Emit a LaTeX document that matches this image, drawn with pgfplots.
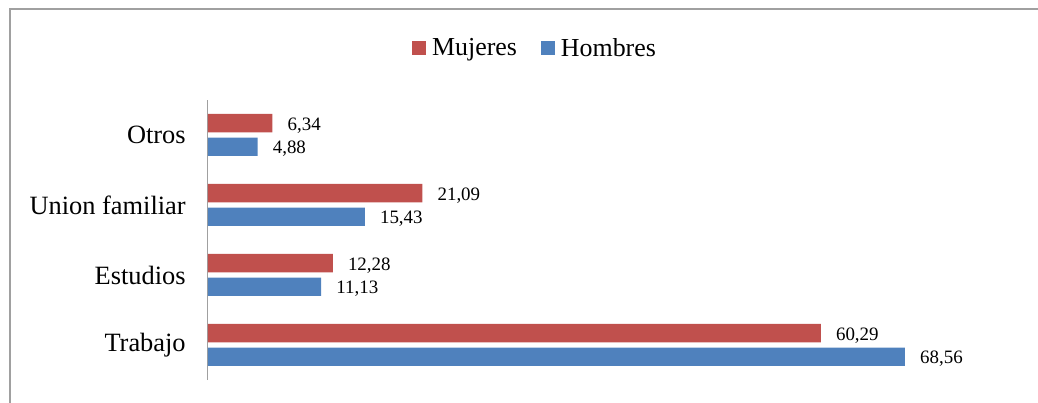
\documentclass[border=0pt]{standalone}
\usepackage{fontspec}
\setmainfont{Liberation Serif}
\usepackage{pgfplots}
\pgfplotsset{compat=1.18}
\definecolor{mred}{HTML}{C0504D}
\definecolor{mblue}{HTML}{4F81BD}
\definecolor{framegray}{HTML}{A0A0A0}
\begin{document}
\begin{tikzpicture}
\path[use as bounding box] (-208bp,-23bp) rectangle (830bp,380bp);
\draw[framegray, line width=1.3bp] (-198bp,-23bp) -- (-198bp,371bp) -- (830bp,371bp);
\begin{axis}[
  scale only axis, width=830bp, height=280bp,
  xbar, xmin=0, xmax=81.65, ymin=-0.5, ymax=3.5,
  axis x line=none, axis y line=left,
  y axis line style={-, draw=framegray, line width=1bp},
  ytick={0,1,2,3}, yticklabels={Trabajo, Estudios, Union familiar, Otros},
  ytick style={draw=none},
  yticklabel style={font=\fontsize{26.5}{30}\selectfont, inner sep=0pt, anchor=east, xshift=-20bp},
  bar width=0.264,
  clip=false,
  nodes near coords, point meta=explicit symbolic,
  every node near coord/.append style={font=\fontsize{19}{21}\selectfont, anchor=west, inner sep=0pt, xshift=15bp, yshift=-2bp, text=black},
  legend style={at={(0.394,1.186)}, anchor=center, draw=none, font=\fontsize{26}{30}\selectfont, legend columns=2,
    /tikz/every odd column/.append style={column sep=4bp},
    /tikz/every even column/.append style={column sep=22bp}},
  legend image code/.code={\fill[#1] (0bp,-7bp) rectangle (14bp,7bp);},
]
\addplot[fill=mred, draw=none, bar shift=0.168] coordinates {(60.29,0) [60,29] (12.28,1) [12,28] (21.09,2) [21,09] (6.34,3) [6,34]};
\addplot[fill=mblue, draw=none, bar shift=-0.168] coordinates {(68.56,0) [68,56] (11.13,1) [11,13] (15.43,2) [15,43] (4.88,3) [4,88]};
\legend{Mujeres, Hombres}
\end{axis}
\end{tikzpicture}
\end{document}
